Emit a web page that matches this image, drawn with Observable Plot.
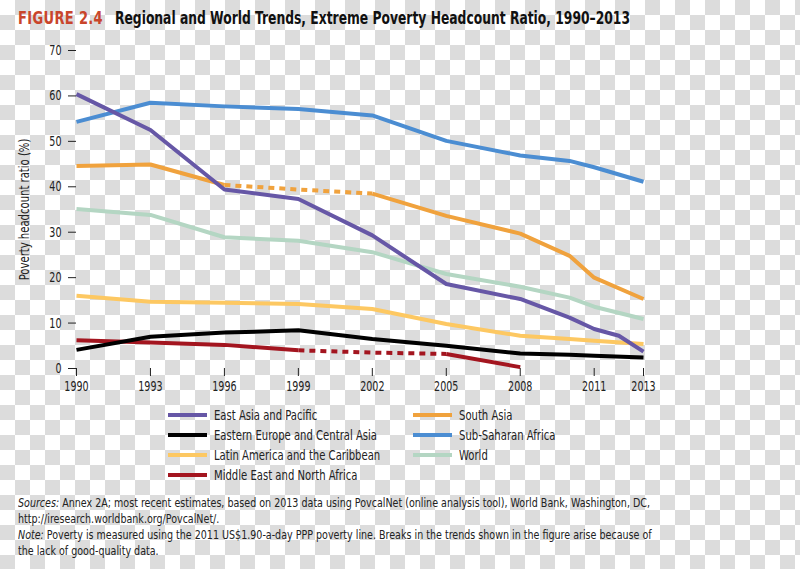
<!DOCTYPE html>
<html><head><meta charset="utf-8">
<script src="https://cdn.jsdelivr.net/npm/d3@7"></script>
<script src="https://cdn.jsdelivr.net/npm/@observablehq/plot@0.6"></script>
<style>
html,body{margin:0;padding:0;}
body{width:800px;height:569px;position:relative;overflow:hidden;
  background:repeating-conic-gradient(#dcdcdc 0 25%, #ffffff 0 50%) 0 0/30px 30px;
  font-family:"Liberation Sans Narrow","DejaVu Sans Condensed",sans-serif;color:#222;}
.tpart{position:absolute;top:8px;font-size:17.5px;line-height:20px;font-weight:bold;white-space:nowrap;display:inline-block;transform-origin:0 50%;}
#fig{left:18px;color:#c9452b;letter-spacing:0.4px;}
#ttl{left:115px;color:#111;}
#chart{position:absolute;left:0;top:38px;}
.item{position:absolute;height:20px;display:flex;align-items:center;font-size:13.5px;white-space:nowrap;color:#222;}
.sw{width:39px;height:4px;margin-right:7px;flex:none;}
.lab{display:inline-block;transform-origin:0 50%;}
#notes{position:absolute;left:18px;top:495px;font-size:13px;line-height:16px;white-space:nowrap;color:#222;transform-origin:0 0;}
#notes span{display:inline-block;}
</style></head>
<body>
<span id="fig" class="tpart">FIGURE 2.4</span>
<span id="ttl" class="tpart">Regional and World Trends, Extreme Poverty Headcount Ratio, 1990–2013</span>
<div id="chart"></div>
<div id="legend"></div>
<div id="notes"><span id="n1"><i>Sources:</i> Annex 2A; most recent estimates, based on 2013 data using PovcalNet (online analysis tool), World Bank, Washington, DC,</span><br><span>http://iresearch.worldbank.org/PovcalNet/.</span><br><span><i>Note:</i> Poverty is measured using the 2011 US$1.90-a-day PPP poverty line. Breaks in the trends shown in the figure arise because of</span><br><span>the lack of good-quality data.</span></div>
<script>
const years = [1990, 1993, 1996, 1999, 2002, 2005, 2008, 2010, 2011, 2012, 2013];
const xTicks = [1990, 1993, 1996, 1999, 2002, 2005, 2008, 2011, 2013];
const yTicks = [0, 10, 20, 30, 40, 50, 60, 70];

const eastAsiaPacific = [60.4, 52.5, 39.4, 37.3, 29.3, 18.6, 15.3, 11.2, 8.7, 7.2, 3.7];
const subSaharanAfrica = [54.3, 58.5, 57.7, 57.1, 55.7, 50.1, 46.9, 45.7, 44.3, null, 41.1];
const southAsia = [44.6, 44.9, 40.4, 39.4, 38.5, 33.6, 29.7, 24.8, 20.0, null, 15.3];
const world = [35.1, 33.8, 28.9, 28.1, 25.6, 20.8, 18.0, 15.6, 13.6, null, 10.9];
const latinAmerica = [16.0, 14.7, 14.5, 14.2, 13.1, 9.8, 7.2, 6.5, 6.1, null, 5.4];
const easternEurope = [4.1, 7.0, 7.9, 8.4, 6.5, 5.0, 3.3, 3.0, 2.8, null, 2.4];
const middleEast = [6.2, 5.7, 5.2, 4.0, 3.5, 3.2, 0.3, null, null, null, null];

// breaks (data gaps drawn dashed)
const southAsiaBreak = [1996, 2002];
const middleEastBreak = [1999, 2005];

const series = [
  {name: "East Asia and Pacific", values: eastAsiaPacific, color: "#6657a6"},
  {name: "Eastern Europe and Central Asia", values: easternEurope, color: "#000000"},
  {name: "Latin America and the Caribbean", values: latinAmerica, color: "#fdc862"},
  {name: "Middle East and North Africa", values: middleEast, color: "#a3151f", brk: middleEastBreak},
  {name: "South Asia", values: southAsia, color: "#f0a23d", brk: southAsiaBreak},
  {name: "Sub-Saharan Africa", values: subSaharanAfrica, color: "#4b8dd2"},
  {name: "World", values: world, color: "#b4d6c3"}
];
const drawOrder = ["World", "Latin America and the Caribbean", "Middle East and North Africa",
  "Eastern Europe and Central Asia", "South Asia", "Sub-Saharan Africa", "East Asia and Pacific"];

const solid = [], dashed = [];
for (const s of series) {
  const pts = years.map((y, i) => ({year: y, value: s.values[i], name: s.name}))
    .filter(d => d.value != null);
  if (s.brk) {
    const [a, b] = s.brk;
    pts.filter(d => d.year <= a).forEach(d => solid.push({...d, seg: s.name + "-1"}));
    pts.filter(d => d.year >= a && d.year <= b).forEach(d => dashed.push({...d, seg: s.name + "-d"}));
    pts.filter(d => d.year >= b).forEach(d => solid.push({...d, seg: s.name + "-2"}));
  } else {
    pts.forEach(d => solid.push({...d, seg: s.name}));
  }
}
const rank = n => drawOrder.indexOf(n);
solid.sort((p, q) => rank(p.name) - rank(q.name));

const colorScale = {domain: series.map(s => s.name), range: series.map(s => s.color)};

const chart = Plot.plot({
  width: 800, height: 372,
  marginTop: 12, marginBottom: 42, marginLeft: 76, marginRight: 157,
  style: {background: "transparent", fontFamily: '"Liberation Sans Narrow","DejaVu Sans Condensed",sans-serif', fontSize: "14px", color: "#222", overflow: "visible"},
  x: {domain: [1990, 2013]},
  y: {domain: [0, 70]},
  color: colorScale,
  marks: [
    Plot.axisY({ticks: yTicks, tickSize: 8, tickPadding: 7, line: true, label: "Poverty headcount ratio (%)",
      labelAnchor: "center", labelOffset: 57, labelArrow: "none", fontSize: 14}),
    Plot.axisX({ticks: xTicks, tickSize: 8, tickPadding: 5, tickFormat: "d", line: true, label: null, fontSize: 14}),
    Plot.line(dashed, {x: "year", y: "value", z: "seg", stroke: "name", strokeWidth: 4,
      strokeDasharray: "6,5", strokeLinecap: "butt"}),
    Plot.line(solid, {x: "year", y: "value", z: "seg", stroke: "name", strokeWidth: 4,
      strokeLinejoin: "round", strokeLinecap: "butt"})
  ]
});
document.getElementById("chart").appendChild(chart);

// narrow the SVG texts to mimic the condensed face
d3.select(chart).selectAll("g[aria-label$='tick label'] text").each(function() {
  const t = this.getAttribute("transform") || "";
  this.setAttribute("transform", t + " scale(0.76,1)");
});
d3.select(chart).selectAll("g[aria-label='y-axis label'] text").each(function() {
  const t = this.getAttribute("transform") || "";
  this.setAttribute("transform", t + " scale(0.8,1)");
});

// legend
const leg = document.getElementById("legend");
const cols = [168, 413];
const rows = [415, 435, 455, 475];
const legendColumns = [
  ["East Asia and Pacific", "Eastern Europe and Central Asia", "Latin America and the Caribbean", "Middle East and North Africa"],
  ["South Asia", "Sub-Saharan Africa", "World"]
];
const labs = [];
legendColumns.forEach((col, ci) => col.forEach((name, ri) => {
  const s = series.find(d => d.name === name);
  const el = document.createElement("div");
  el.className = "item";
  el.style.left = cols[ci] + "px";
  el.style.top = (rows[ri] - 10) + "px";
  el.innerHTML = `<div class="sw" style="background:${s.color}"></div><span class="lab">${name}</span>`;
  leg.appendChild(el);
  labs.push(el.querySelector(".lab"));
}));
const refLab = labs[1];
const ls = 163 / refLab.getBoundingClientRect().width;
labs.forEach(l => l.style.transform = `scaleX(${ls})`);

// fit title parts and notes to the reference widths
function fit(el, target) {
  const w = el.getBoundingClientRect().width;
  el.style.transform = `scaleX(${target / w})`;
}
fit(document.getElementById("fig"), 85);
fit(document.getElementById("ttl"), 515);
const notes = document.getElementById("notes");
const ns = 632 / document.getElementById("n1").getBoundingClientRect().width;
notes.style.transform = `scaleX(${ns})`;
</script>
</body></html>
